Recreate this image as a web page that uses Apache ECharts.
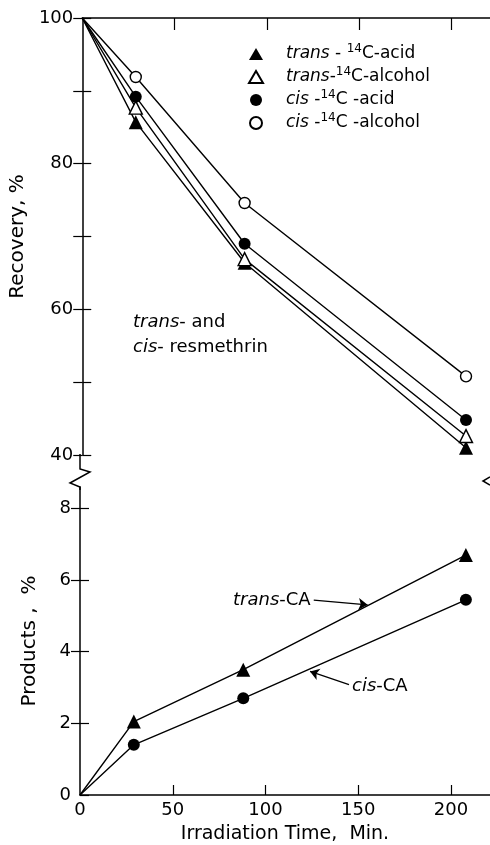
<!DOCTYPE html>
<html>
<head>
<meta charset="utf-8">
<script src="https://cdn.jsdelivr.net/npm/echarts@6/dist/echarts.min.js"></script>
<style>
  html, body { margin: 0; padding: 0; background: #fff; }
  #chart { width: 490px; height: 845px; }
</style>
</head>
<body>
<div id="chart"></div>
<script>
// irradiation time, min
const times = [0, 29, 88, 208]

// recovery, %
const transAcid = [100, 85.7, 66.4, 41.0]
const transAlcohol = [100, 87.7, 66.9, 42.6]
const cisAcid = [100, 89.2, 69.0, 44.8]
const cisAlcohol = [100, 91.9, 74.6, 50.8]

// products, %
const transCA = [0, 2.05, 3.5, 6.7]
const cisCA = [0, 1.4, 2.7, 5.45]

const xTicks = [0, 50, 100, 150, 200]
const recoveryTicks = [40, 60, 80, 100]
const productTicks = [0, 2, 4, 6, 8]

const FONT = 'DejaVu Sans'
const pairs = arr => times.map((t, i) => [t, arr[i]])

function lineSeries(name, data, symbol, filled, size, xi, yi) {
  return {
    name: name,
    type: 'line',
    xAxisIndex: xi,
    yAxisIndex: yi,
    data: pairs(data),
    symbol: symbol,
    symbolSize: (v, p) => p.dataIndex === 0 ? 0 : size,
    showAllSymbol: true,
    lineStyle: { color: '#000', width: 1.4 },
    itemStyle: {
      color: filled ? '#000' : '#fff',
      borderColor: '#000',
      borderWidth: filled ? 0 : 1.4
    },
    emphasis: { disabled: true },
    animation: false
  }
}

const chart = echarts.init(document.getElementById('chart'))

const legendText = {
  'trans-acid': '{i|trans} - {s|14}C-acid',
  'trans-alcohol': '{i|trans}-{s|14}C-alcohol',
  'cis-acid': '{i|cis} -{s|14}C -acid',
  'cis-alcohol': '{i|cis} -{s|14}C -alcohol'
}

const tickLabel = list => v => list.indexOf(v) >= 0 ? String(v) : ''

// arrows from the labels to the product lines
function arrow(from, to) {
  return {
    silent: true, symbol: ['none', 'arrow'], symbolSize: 9,
    label: { show: false },
    lineStyle: { color: '#000', width: 1.2, type: 'solid' },
    data: [[{ coord: from }, { coord: to }]],
    animation: false
  }
}

const trans = lineSeries('trans-CA', transCA, 'triangle', true, 14, 1, 2)
trans.markLine = arrow([126, 5.44], [155, 5.31])
const cis = lineSeries('cis-CA', cisCA, 'circle', true, 12, 1, 2)
cis.markLine = arrow([145, 3.08], [124, 3.45])

const option = {
  backgroundColor: '#fff',
  textStyle: { fontFamily: FONT, color: '#000' },
  grid: [
    { left: 80, top: 18, width: 410, height: 437 },
    { left: 80, top: 487, width: 410, height: 310 }
  ],
  legend: {
    data: [
      { name: 'trans-acid', icon: 'triangle' },
      { name: 'trans-alcohol', icon: 'triangle' },
      { name: 'cis-acid', icon: 'circle' },
      { name: 'cis-alcohol', icon: 'circle' }
    ],
    orient: 'vertical',
    left: 243,
    top: 38,
    itemGap: 1,
    itemWidth: 14,
    itemHeight: 12,
    selectedMode: false,
    formatter: name => legendText[name],
    textStyle: {
      fontFamily: FONT,
      fontSize: 17,
      color: '#000',
      padding: [0, 0, 0, 18],
      lineHeight: 22,
      rich: {
        i: { fontStyle: 'italic', fontSize: 17, lineHeight: 22, fontFamily: FONT },
        s: { fontSize: 12, lineHeight: 10, verticalAlign: 'top', fontFamily: FONT }
      }
    }
  },
  xAxis: [
    {
      type: 'value', gridIndex: 0, position: 'top', min: 0, max: 221, interval: 50,
      axisLine: { show: true, lineStyle: { color: '#000', width: 1.5 } },
      axisTick: { show: true, inside: true, length: 12, customValues: xTicks.slice(1),
        lineStyle: { color: '#000', width: 1.2 } },
      axisLabel: { show: false },
      splitLine: { show: false }
    },
    {
      type: 'value', gridIndex: 1, position: 'bottom', min: 0, max: 221, interval: 50,
      name: 'Irradiation Time,  Min.', nameLocation: 'middle', nameGap: 30,
      nameTextStyle: { fontFamily: FONT, fontSize: 19, color: '#000' },
      axisLine: { show: true, onZero: false, lineStyle: { color: '#000', width: 1.5 } },
      axisTick: { show: true, inside: true, length: 10, customValues: xTicks.slice(1),
        lineStyle: { color: '#000', width: 1.2 } },
      axisLabel: { fontSize: 18, color: '#000', margin: 6, customValues: xTicks, formatter: tickLabel(xTicks) },
      splitLine: { show: false }
    }
  ],
  yAxis: [
    {
      type: 'value', gridIndex: 0, position: 'left', min: 40, max: 100, interval: 10,
      name: 'Recovery, %', nameLocation: 'middle', nameGap: 42, nameRotate: 90,
      nameTextStyle: { fontFamily: FONT, fontSize: 20, color: '#000' },
      axisLine: { show: true, onZero: false, lineStyle: { color: '#000', width: 1.5 } },
      axisTick: { show: true, inside: true, length: 9, lineStyle: { color: '#000', width: 1.2 } },
      axisLabel: { fontSize: 18, color: '#000', margin: 9, formatter: tickLabel(recoveryTicks) },
      splitLine: { show: false }
    },
    {
      type: 'value', gridIndex: 0, position: 'right', min: 40, max: 100, interval: 10,
      axisLine: { show: false },
      axisTick: { show: true, inside: true, length: 9, lineStyle: { color: '#000', width: 1.2 } },
      axisLabel: { show: false },
      splitLine: { show: false }
    },
    {
      type: 'value', gridIndex: 1, position: 'left', min: 0, max: 8.6, interval: 2,
      name: 'Products ,  %', nameLocation: 'middle', nameGap: 40, nameRotate: 90,
      nameTextStyle: { fontFamily: FONT, fontSize: 20, color: '#000' },
      axisLine: { show: true, onZero: false, lineStyle: { color: '#000', width: 1.5 } },
      axisTick: { show: true, inside: true, length: 9, customValues: productTicks,
        lineStyle: { color: '#000', width: 1.2 } },
      axisLabel: { fontSize: 18, color: '#000', margin: 9, customValues: productTicks, formatter: tickLabel(productTicks) },
      splitLine: { show: false }
    },
    {
      type: 'value', gridIndex: 1, position: 'right', min: 0, max: 8.6, interval: 2,
      axisLine: { show: false },
      axisTick: { show: true, inside: true, length: 9, customValues: productTicks.slice(1),
        lineStyle: { color: '#000', width: 1.2 } },
      axisLabel: { show: false },
      splitLine: { show: false }
    }
  ],
  series: [
    lineSeries('trans-acid', transAcid, 'triangle', true, 14, 0, 0),
    lineSeries('trans-alcohol', transAlcohol, 'triangle', false, 13, 0, 0),
    lineSeries('cis-acid', cisAcid, 'circle', true, 12, 0, 0),
    lineSeries('cis-alcohol', cisAlcohol, 'circle', false, 11, 0, 0),
    trans,
    cis
  ],
  graphic: [
    // axis break marks
    { type: 'polyline', shape: { points: [[80, 454], [80, 469], [90, 472], [70, 483], [80, 487], [80, 490]] },
      style: { stroke: '#000', lineWidth: 1.5, fill: null } },
    { type: 'polyline', shape: { points: [[490, 477], [483, 481], [490, 485]] },
      style: { stroke: '#000', lineWidth: 1.5, fill: null } },
    { type: 'text', left: 133, top: 310, style: {
        text: '{i|trans}- and\n{i|cis}- resmethrin', fontFamily: FONT, fontSize: 18, lineHeight: 25, fill: '#000',
        rich: { i: { fontStyle: 'italic', fontFamily: FONT, fontSize: 18, lineHeight: 25 } } } },
    { type: 'text', left: 233, top: 591, style: {
        text: '{i|trans}-CA', fontFamily: FONT, fontSize: 18, fill: '#000',
        rich: { i: { fontStyle: 'italic', fontFamily: FONT, fontSize: 18 } } } },
    { type: 'text', left: 352, top: 677, style: {
        text: '{i|cis}-CA', fontFamily: FONT, fontSize: 18, fill: '#000',
        rich: { i: { fontStyle: 'italic', fontFamily: FONT, fontSize: 18 } } } }
  ]
}

chart.setOption(option)
</script>
</body>
</html>
